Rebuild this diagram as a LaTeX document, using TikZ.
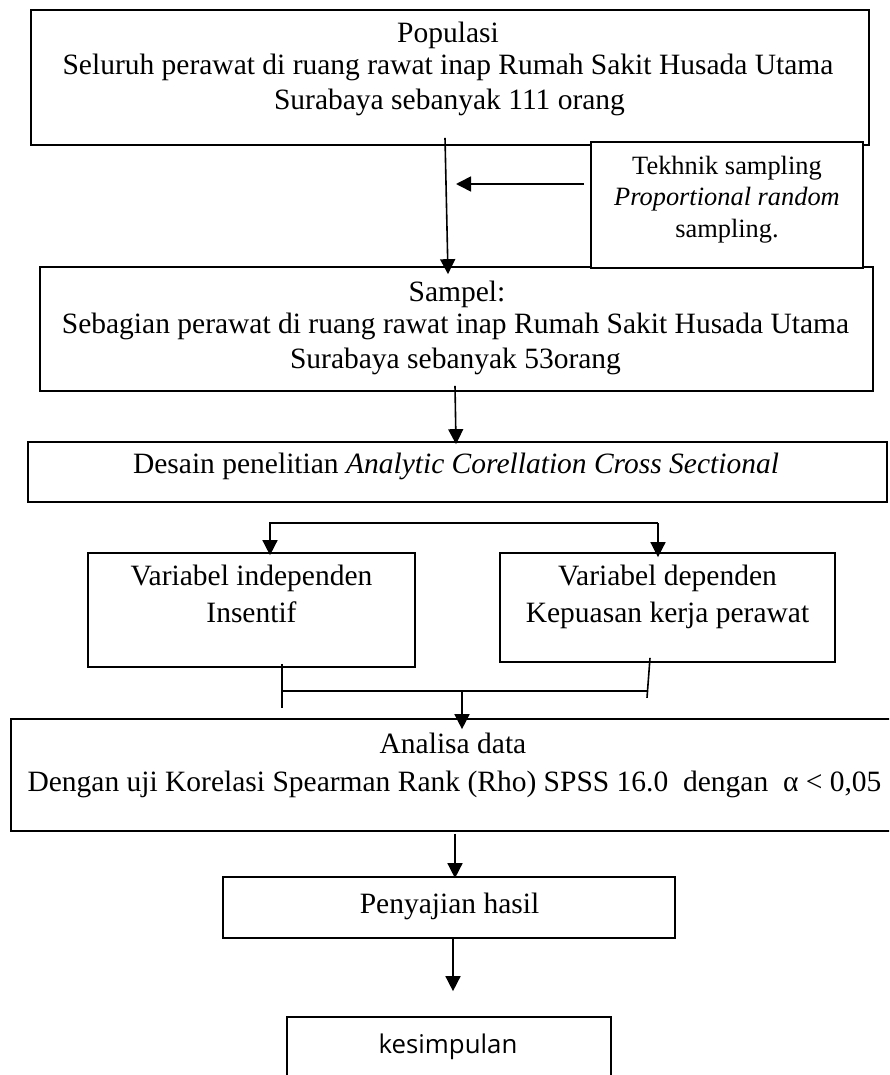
\documentclass[tikz,border=0pt]{standalone}
\usepackage{fontspec}
\setmainfont{Liberation Serif}
\newfontfamily\kesfont{Open Sans}
\usetikzlibrary{arrows.meta}
\begin{document}
\begin{tikzpicture}[x=1pt,y=-1pt,
  box/.style={draw, line width=1.7pt, rectangle, inner sep=0pt, fill=white},
  txt/.style={anchor=base, inner sep=0pt, font=\fontsize{29.5}{35}\selectfont},
  smalltxt/.style={anchor=base, inner sep=0pt, font=\fontsize{26.4}{31}\selectfont},
  conn/.style={line width=1.6pt},
  arr/.style={line width=1.6pt, -{Triangle[width=15pt,length=15pt]}}]
\useasboundingbox (0,0) rectangle (889,1075);
\clip (0,0) rectangle (889,1075);

% boxes
\node[box, minimum width=838pt, minimum height=135pt] (pop) at (450,77.5) {};
\node[box, minimum width=833pt, minimum height=124pt] (samp) at (456.5,329) {};
\node[box, minimum width=272pt, minimum height=126pt] (tek) at (727,205) {};
\node[box, minimum width=859pt, minimum height=60pt] (desain) at (457.5,472) {};
\node[box, minimum width=327pt, minimum height=114pt] (indep) at (251.5,610) {};
\node[box, minimum width=335pt, minimum height=109pt] (dep) at (667.5,607.5) {};
\node[box, minimum width=889pt, minimum height=112pt] (anal) at (455.5,775) {};
\node[box, minimum width=452pt, minimum height=61pt] (peny) at (449,907.5) {};
\node[box, minimum width=324pt, minimum height=83pt] (kes) at (449,1058.5) {};

% texts
\node[txt] (pop1) at (448,43) {Populasi};
\node[txt] (pop2) at (448,75) {Seluruh perawat di ruang rawat inap Rumah Sakit Husada Utama};
\node[txt] (pop3) at (449.5,110) {Surabaya sebanyak 111 orang};

\node[smalltxt] (tek1) at (727,175) {Tekhnik sampling};
\node[smalltxt] (tek2) at (727,206) {\textit{Proportional random}};
\node[smalltxt] (tek3) at (727,237) {sampling.};

\node[txt] (samp1) at (457,301) {Sampel:};
\node[txt] (samp2) at (455.5,333) {Sebagian perawat di ruang rawat inap Rumah Sakit Husada Utama};
\node[txt] (samp3) at (455.5,368) {Surabaya sebanyak 53orang};

\node[txt] (des1) at (456,473) {Desain penelitian \textit{Analytic Corellation Cross Sectional}};

\node[txt] (ind1) at (251.5,585) {Variabel independen};
\node[txt] (ind2) at (251.5,622) {Insentif};
\node[txt] (dep1) at (667.5,585) {Variabel dependen};
\node[txt] (dep2) at (667.5,622) {Kepuasan kerja perawat};

\node[txt] (an1) at (453,753) {Analisa data};
\node[txt] (an2) at (454.5,791) {Dengan uji Korelasi Spearman Rank (Rho) SPSS 16.0\ \ dengan\ \ α < 0,05};

\node[txt] (pe1) at (449.5,913) {Penyajian hasil};
\node[anchor=base, inner sep=0pt, font=\kesfont\fontsize{25.8}{30}\selectfont] (ke1) at (448,1053) {kesimpulan};

% connectors
\draw[arr] ([xshift=-5pt,yshift=8pt]pop.south) -- ([xshift=-8.5pt,yshift=-8pt]samp.north);
\coordinate (tekend) at (456,184);
\draw[arr] ([xshift=-6pt,yshift=21pt]tek.west) -- (tekend);
\draw[arr] ([xshift=-1.5pt,yshift=6pt]samp.south) -- ([xshift=-1.5pt,yshift=-3pt]desain.north);

\coordinate (brL) at (270,523);
\coordinate (brR) at (658,523);
\draw[arr] (brR) -- (brL) -- ([xshift=18.5pt,yshift=-3pt]indep.north);
\draw[arr] (brR) -- ([xshift=-9.5pt,yshift=-5pt]dep.north);

\draw[conn] ([xshift=30.5pt,yshift=4pt]indep.south) -- ([xshift=30.5pt,yshift=-40pt]indep.south);
\draw[conn] ([xshift=-17.5pt,yshift=5pt]dep.south) -- ([xshift=-20.5pt,yshift=-35pt]dep.south);
\coordinate (mL) at (282,691);
\coordinate (mR) at (648,691);
\coordinate (mM) at (462,691);
\draw[conn] (mL) -- (mR);
\draw[arr] (mM) -- ([xshift=6.5pt,yshift=-11pt]anal.north);

\draw[arr] ([xshift=-0.5pt,yshift=-2pt]anal.south) -- ([xshift=6pt,yshift=-2pt]peny.north);
\draw[arr] ([xshift=4pt]peny.south) -- ([xshift=4pt,yshift=25pt]kes.north);
\end{tikzpicture}
\end{document}
